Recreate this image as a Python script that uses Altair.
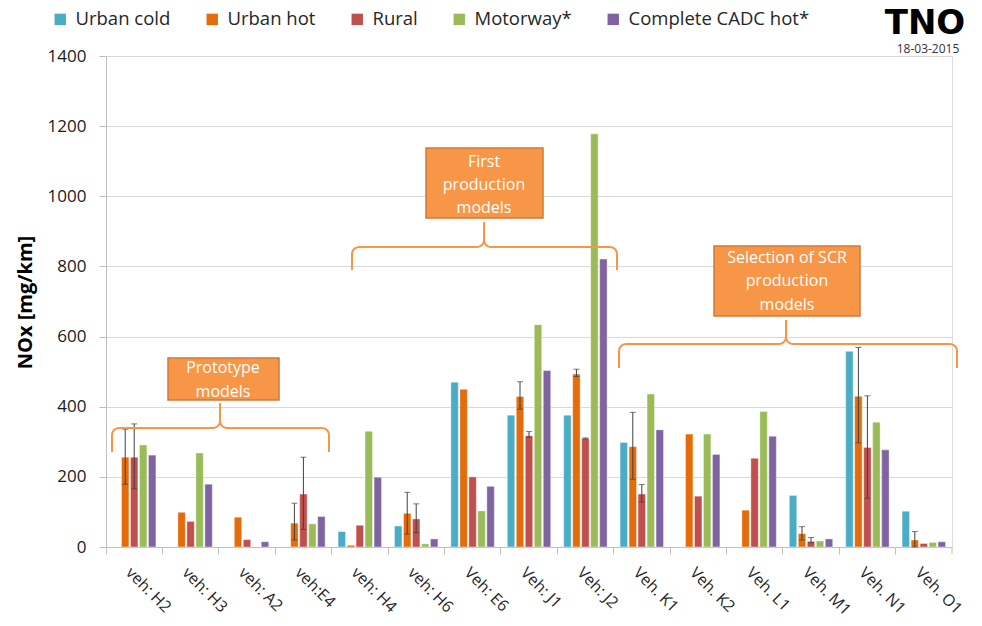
import altair as alt
import pandas as pd
import numpy as np

vehicles = ["veh: H2", "veh: H3", "veh: A2", "veh:E4", "veh: H4", "veh: H6", "Veh: E6",
            "Veh: J1", "Veh: J2", "Veh. K1", "Veh. K2", "Veh. L1", "Veh. M1", "Veh. N1", "Veh. O1"]
series = ["Urban cold", "Urban hot", "Rural", "Motorway*", "Complete CADC hot*"]
colors = ["#4BACC6", "#E46C0A", "#C0504D", "#9BBB59", "#8064A2"]

urban_cold = [None, None, None, None, 44, 60, 470, 376, 376, 298, None, None, 147, 558, 102]
urban_hot = [256, 99, 85, 68, 5, 96, 450, 429, 493, 286, 322, 105, 38, 430, 20]
rural = [256, 73, 21, 151, 62, 80, 200, 317, 309, 151, 145, 253, 16, 284, 10]
motorway = [291, 268, None, 66, 330, 9, 103, 634, 1178, 436, 322, 386, 17, 356, 13]
cadc = [262, 179, 15, 87, 199, 23, 173, 503, 821, 334, 264, 316, 23, 277, 15]

hot_err_low = [179, None, None, 20, None, 37, None, 393, 486, 193, None, None, 20, 297, 0]
hot_err_high = [336, None, None, 125, None, 156, None, 471, 507, 384, None, None, 58, 569, 44]
rural_err_low = [166, None, None, 50, None, 41, None, 313, 308, 128, None, None, 12, 139, None]
rural_err_high = [351, None, None, 256, None, 123, None, 329, 311, 178, None, None, 27, 431, None]

y_ticks = [0, 200, 400, 600, 800, 1000, 1200, 1400]

FONT = "Open Sans"

# ---- data tables ----
rows = []
for s, vals in zip(series, [urban_cold, urban_hot, rural, motorway, cadc]):
    for v, val in zip(vehicles, vals):
        if val is not None:
            rows.append({"vehicle": v, "series": s, "value": val})
bars_df = pd.DataFrame(rows)

erows = []
for s, lo, hi in [("Urban hot", hot_err_low, hot_err_high), ("Rural", rural_err_low, rural_err_high)]:
    for v, l, h in zip(vehicles, lo, hi):
        if l is not None:
            erows.append({"vehicle": v, "series": s, "value": l, "value2": h})
err_df = pd.DataFrame(erows)

# ---- shared encodings ----
x_enc = alt.X("vehicle:N", sort=vehicles,
              scale=alt.Scale(domain=vehicles, paddingInner=0, paddingOuter=0),
              axis=alt.Axis(title=None, labelAngle=45, labelAlign="left", labelBaseline="top",
                            labelFont=FONT, labelFontSize=16, labelColor="#262626",
                            bandPosition=0, labelOffset=0, labelPadding=10,
                            tickSize=7, tickColor="#bfbfbf", domainColor="#bfbfbf",
                            grid=False, labelLimit=300))
xo_enc = alt.XOffset("series:N", sort=series,
                     scale=alt.Scale(domain=series, paddingInner=0.17, paddingOuter=0.72))
y_axis = alt.Axis(values=y_ticks, format="d", title="NOx [mg/km]", titleFont=FONT,
                  titleFontSize=20, titleFontWeight="bold", titleColor="#000000", titleAngle=-90,
                  titleX=-81, titleY=246, titleAlign="center", titleBaseline="middle",
                  labelFont=FONT, labelFontSize=17, labelColor="#1a1a1a", labelPadding=13,
                  tickSize=7, tickColor="#bfbfbf", domainColor="#bfbfbf",
                  gridColor="#d9d9d9", grid=True)
y_scale = alt.Scale(domain=[0, 1400], nice=False)

bars = alt.Chart(bars_df).mark_bar(stroke="white", strokeWidth=0.4).encode(
    x=x_enc, xOffset=xo_enc,
    y=alt.Y("value:Q", scale=y_scale, axis=y_axis),
    color=alt.Color("series:N", sort=series,
                    scale=alt.Scale(domain=series, range=colors),
                    legend=alt.Legend(title=None, orient="none", direction="horizontal",
                                      legendX=-55, legendY=-46, symbolType="square",
                                      symbolSize=130, symbolStrokeWidth=0, labelFont=FONT,
                                      labelFontSize=18.5, labelColor="#262626",
                                      columnPadding=32, labelOffset=6, padding=0,
                                      labelLimit=400)),
)

err_rule = alt.Chart(err_df).mark_rule(color="#404040", strokeWidth=1).encode(
    x=x_enc, xOffset=xo_enc,
    y=alt.Y("value:Q", scale=y_scale, axis=y_axis), y2="value2:Q")
cap_lo = alt.Chart(err_df).mark_tick(color="#404040", thickness=1, size=6).encode(
    x=x_enc, xOffset=xo_enc, y=alt.Y("value:Q", scale=y_scale, axis=y_axis))
cap_hi = alt.Chart(err_df).mark_tick(color="#404040", thickness=1, size=6).encode(
    x=x_enc, xOffset=xo_enc, y=alt.Y("value2:Q", scale=y_scale, axis=y_axis))

main = alt.layer(bars, err_rule, cap_lo, cap_hi)

# ---- annotations (pixel geometry of the plot area) ----
one = pd.DataFrame({"a": [0]})

end_tick = alt.Chart(one).mark_rule(color="#bfbfbf").encode(
    x=alt.value(846), y=alt.value(491), y2=alt.value(498))


def brace(name, x0, x1, xc, yh, ytip, yend, r=7):
    pts = [(x0, yend), (x0, yh + r)]
    for a in np.linspace(np.pi, 1.5 * np.pi, 6):
        pts.append((x0 + r + r * np.cos(a), yh + r + r * np.sin(a)))
    for a in np.linspace(0.5 * np.pi, 0, 6):
        pts.append((xc - r + r * np.cos(a), yh - r + r * np.sin(a)))
    pts.append((xc, ytip))
    for a in np.linspace(np.pi, 0.5 * np.pi, 6):
        pts.append((xc + r + r * np.cos(a), yh - r + r * np.sin(a)))
    for a in np.linspace(1.5 * np.pi, 2 * np.pi, 6):
        pts.append((x1 - r + r * np.cos(a), yh + r + r * np.sin(a)))
    pts.append((x1, yend))
    return [{"brace": name, "i": i, "x": float(px), "y": float(py)} for i, (px, py) in enumerate(pts)]


brace_rows = (brace("b1", 6, 223, 114, 372, 347, 396)
              + brace("b2", 246, 511, 378, 191, 166, 214)
              + brace("b3", 513, 851, 680, 288, 264, 312))
braces = alt.Chart(pd.DataFrame(brace_rows)).mark_line(color="#F79646", strokeWidth=2).encode(
    x=alt.X("x:Q", scale=None, axis=None), y=alt.Y("y:Q", scale=None, axis=None),
    detail="brace:N", order="i:Q")

box_df = pd.DataFrame({"x": [62, 320, 608], "x2": [173, 437, 754],
                       "y": [302, 92, 190], "y2": [344, 162, 260]})
boxes = alt.Chart(box_df).mark_rect(fill="#F79646", stroke="#D07A38", strokeWidth=1.5).encode(
    x=alt.X("x:Q", scale=None, axis=None), x2="x2:Q",
    y=alt.Y("y:Q", scale=None, axis=None), y2="y2:Q")

box_text_df = pd.DataFrame({
    "x": [117, 117, 378, 378, 378, 681, 681, 681],
    "y": [312, 336, 106, 129, 152, 202, 225, 249],
    "t": ["Prototype", "models", "First", "production", "models",
          "Selection of SCR", "production", "models"]})
box_text = alt.Chart(box_text_df).mark_text(font=FONT, fontSize=16, color="#ffffff",
                                            align="center", baseline="middle").encode(
    x=alt.X("x:Q", scale=None, axis=None), y=alt.Y("y:Q", scale=None, axis=None), text="t:N")

logo = alt.Chart(one).mark_text(text="TNO", font="DejaVu Sans", fontWeight="bold", fontSize=34,
                                color="#000000", align="center", baseline="alphabetic").encode(
    x=alt.value(819), y=alt.value(-22))
date = alt.Chart(one).mark_text(text="18-03-2015", font=FONT, fontSize=12, color="#333333",
                                align="center", baseline="middle").encode(
    x=alt.value(822), y=alt.value(-7))

chart = alt.layer(main, end_tick, braces, boxes, box_text, logo, date).resolve_scale(
    x="independent", y="independent"
).properties(
    width=846, height=491, autosize="none",
    padding={"left": 98, "top": 48, "right": 22, "bottom": 70},
).configure_view(stroke=None).configure(background="white")

chart.save("out.html", embed_options={"renderer": "svg", "actions": False})
